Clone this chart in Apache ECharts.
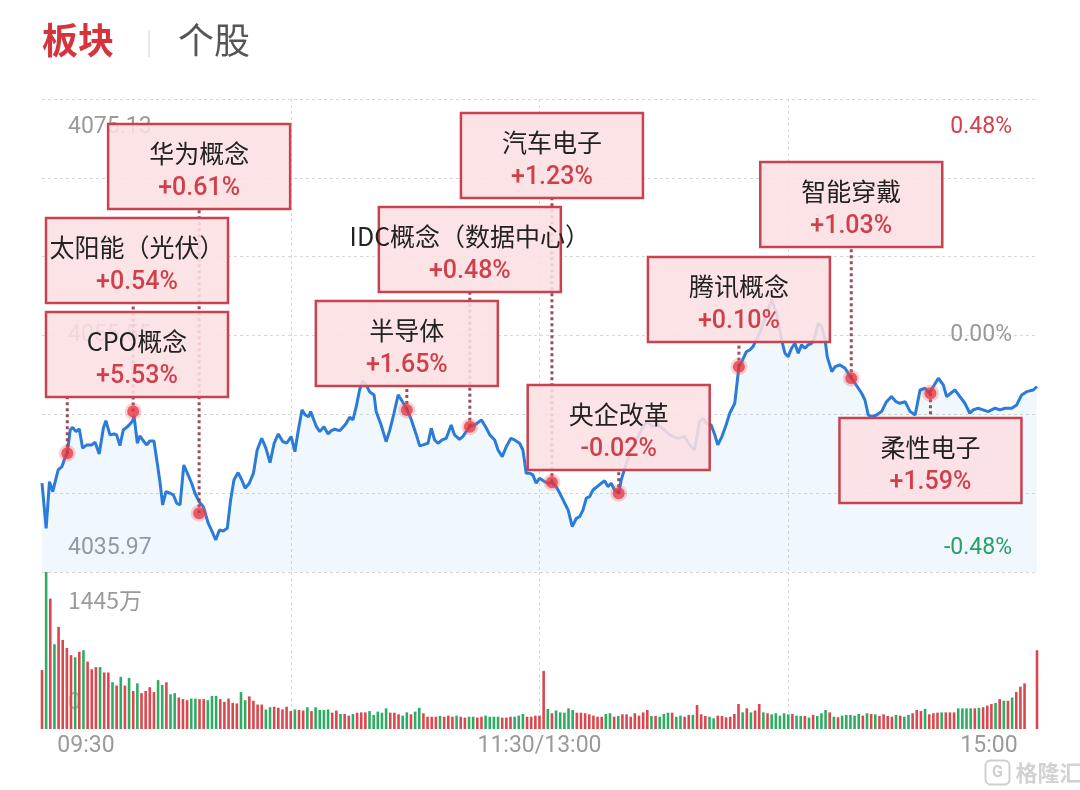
<!DOCTYPE html>
<html><head><meta charset="utf-8">
<script src="https://cdn.jsdelivr.net/npm/echarts@6.0.0/dist/echarts.min.js"></script>
<style>html,body{margin:0;padding:0;background:#fff}#c{width:1080px;height:790px}</style>
</head><body><div id="c"></div>
<script>
// ---------- data ----------
const prevClose = 4055.55;
const priceMax = 4075.13;
const priceMin = 4035.97;
const volMax = 1445;
const xTickValues = [0, 120, 240];
const xTickLabels = ['09:30', '11:30/13:00', '15:00'];

// minutes since 09:30 (trading clock) and index level
const priceTimes = [0,1.0,1.8,2.6,3.1,3.9,4.8,5.5,6.1,6.8,7.4,8.2,9.0,9.8,10.8,12.0,12.8,13.8,14.8,15.4,16.4,17.4,18.0,18.8,19.6,20.8,21.9,22.2,23.0,23.6,24.6,25.3,26.0,27.0,27.8,28.5,29.1,29.9,30.9,31.7,32.5,33.3,34.2,35.0,36.1,36.9,37.9,38.9,40.1,41.2,41.9,42.8,43.7,44.7,45.5,46.3,47.3,48.2,49.0,50.0,51.0,51.9,53.0,54.0,55.0,56.0,57.0,58.1,59.0,60.1,61.0,61.7,62.7,63.5,64.3,64.8,65.4,66.2,67.0,68.0,69.0,69.8,70.6,71.8,72.6,73.4,74.2,75.0,75.8,76.6,77.4,78.2,79.0,80.1,80.6,81.8,83.0,83.9,84.9,85.9,86.7,87.9,89.1,90.3,91.1,91.9,93.1,93.9,94.7,95.5,96.5,97.5,98.7,99.5,100.7,101.5,102.3,103.2,104.4,106.0,107.2,108.0,109.2,110.0,111.0,112.0,113.1,114.0,115.2,116.0,116.8,117.6,118.4,119.2,120.0,121.3,122.0,123.0,124.0,124.9,125.9,126.9,127.9,128.9,129.7,130.5,131.3,132.1,132.9,133.9,134.9,135.7,136.5,137.3,138.1,139.1,139.7,140.7,141.8,143.0,144.6,145.8,147.4,148.6,150.2,151.4,153.4,155.0,156.2,157.4,158.6,159.4,160.2,161.4,162.3,163.0,164.0,165.0,165.9,167.1,168.1,168.8,169.9,170.7,171.5,173.1,174.8,176.0,177.2,178.4,179.2,180.0,180.8,181.6,182.4,183.2,184.0,184.8,185.7,186.4,187.2,188.1,188.9,189.4,190.5,191.3,192.5,193.7,195.1,196.1,197.7,198.5,199.3,200.1,201.3,202.5,203.7,204.9,206.0,206.9,208.2,209.4,210.6,211.8,213.0,214.0,215.0,216.2,217.4,218.2,219.2,220.2,221.4,222.6,223.8,224.6,225.8,227.0,228.2,229.9,231.1,232.3,233.9,235.1,236.3,237.5,239.1,240];
const priceValues = [4043.32,4039.59,4043.45,4042.62,4043.32,4044.42,4044.69,4045.39,4045.80,4047.73,4047.95,4047.59,4047.81,4046.22,4046.49,4046.49,4046.71,4045.74,4047.87,4048.50,4047.32,4047.40,4047.32,4046.43,4047.73,4048.06,4048.50,4048.89,4046.63,4047.23,4046.76,4046.49,4046.82,4046.82,4044.97,4043.32,4041.52,4042.62,4042.49,4042.35,4041.66,4041.52,4044.83,4044.20,4043.32,4042.49,4041.79,4041.38,4040.01,4039.18,4038.62,4039.45,4039.37,4039.59,4041.94,4043.59,4044.20,4043.59,4042.90,4043.32,4044.15,4046.07,4047.04,4046.22,4045.02,4046.63,4047.40,4046.76,4046.63,4047.18,4045.93,4047.46,4049.39,4048.97,4048.83,4049.25,4048.70,4048.00,4047.59,4048.00,4047.40,4047.67,4047.79,4047.67,4047.95,4048.29,4048.78,4048.56,4049.66,4051.04,4051.81,4051.46,4050.90,4050.63,4049.25,4048.14,4046.76,4047.73,4049.11,4050.63,4050.21,4049.53,4048.56,4047.32,4046.41,4046.49,4046.63,4047.87,4046.90,4046.63,4046.90,4047.04,4048.14,4047.32,4046.96,4047.18,4047.59,4048.00,4048.14,4048.56,4047.87,4047.32,4046.90,4046.07,4045.52,4046.35,4047.04,4046.90,4046.63,4046.07,4044.15,4044.15,4044.01,4043.32,4043.73,4043.45,4043.32,4043.40,4043.04,4042.49,4041.79,4041.11,4039.72,4040.42,4040.55,4041.11,4042.08,4042.21,4042.76,4043.04,4043.32,4043.53,4043.04,4043.32,4042.76,4042.49,4043.59,4044.69,4045.80,4046.63,4047.73,4048.42,4048.00,4048.14,4047.73,4047.32,4047.04,4047.18,4046.49,4046.07,4048.42,4048.70,4048.29,4048.14,4047.32,4046.49,4047.18,4048.14,4049.11,4049.94,4052.97,4053.39,4054.21,4054.35,4054.63,4055.74,4057.39,4058.49,4057.39,4055.18,4054.08,4053.80,4054.49,4054.91,4054.08,4054.77,4054.49,4054.77,4054.91,4055.46,4056.56,4056.28,4055.18,4053.80,4052.56,4052.97,4053.11,4052.84,4052.09,4051.60,4050.77,4050.21,4048.97,4048.83,4048.97,4049.25,4050.07,4050.49,4050.07,4049.94,4050.07,4049.25,4048.97,4051.04,4051.18,4050.77,4051.32,4052.01,4051.46,4050.49,4050.77,4051.04,4050.49,4049.94,4049.11,4049.39,4049.53,4049.39,4049.25,4049.53,4049.39,4049.53,4049.53,4049.80,4050.63,4050.90,4051.04,4051.33];

// per-minute volume (万), index 0 = 09:30 ... 240 = 15:00
const volumes = [543,1445,1200,780,940,820,745,680,660,710,
725,620,550,570,570,520,520,430,400,480,
400,470,350,420,330,350,385,340,450,405,
430,320,330,290,275,265,280,280,275,275,
265,305,305,275,250,280,240,235,340,265,
300,260,225,225,180,200,205,195,180,205,
165,180,175,170,200,165,200,175,175,180,
150,170,138,138,123,138,150,153,153,165,
130,160,150,190,150,150,135,123,153,135,
160,195,145,113,113,113,120,113,123,113,
123,113,105,113,113,105,113,123,113,113,
113,105,105,113,113,123,138,113,113,123,
123,535,
185,145,170,153,150,190,175,150,150,145,
135,123,113,113,138,145,113,120,135,135,
113,145,123,153,175,120,120,113,138,150,
150,113,123,113,130,130,220,135,120,113,
98,123,120,108,113,138,230,153,190,153,
170,230,153,145,135,145,123,145,135,138,
123,120,120,105,130,120,145,175,153,113,
108,123,130,130,123,138,123,145,138,135,
120,135,120,113,130,123,113,130,145,175,
165,185,135,145,150,153,153,153,153,190,
190,190,190,190,195,200,215,230,240,275,
260,260,290,340,390,420,
0,0,725];
// 1 = up (red), 0 = down (green)
const volUp = [1,0,1,0,1,1,1,1,0,1,
0,1,1,1,0,1,1,0,1,0,
1,0,1,0,1,1,1,1,0,0,
1,0,0,1,1,1,0,0,1,1,
0,0,0,1,1,1,1,1,0,0,
1,1,1,1,0,0,1,1,1,1,
1,0,1,1,0,1,0,0,0,0,
1,1,0,1,1,0,1,1,1,0,
0,0,0,0,1,1,1,0,0,1,
0,0,1,1,1,1,0,1,1,1,
0,1,1,0,0,1,1,0,0,0,
0,1,1,1,0,0,0,1,1,1,
1,1,
0,1,0,0,0,0,0,1,1,1,
1,1,1,1,0,0,1,0,1,1,
1,1,1,1,1,0,1,0,0,0,
1,0,0,1,1,0,1,1,1,0,
0,1,1,1,1,1,1,0,1,0,
1,1,0,1,0,0,0,0,0,1,
0,0,1,0,1,0,0,0,1,0,
1,0,0,0,0,0,1,0,1,0,
1,1,1,1,0,1,0,0,1,1,
1,0,1,1,1,0,1,1,1,0,
0,0,0,1,0,1,1,1,0,1,
0,1,0,1,1,1,
1,1,1];

// sector annotations
const annoNames = ['CPO概念','太阳能（光伏）','华为概念','半导体','IDC概念（数据中心）','汽车电子','央企改革','腾讯概念','智能穿戴','柔性电子'];
const annoPct = [5.53, 0.54, 0.61, 1.65, 0.48, 1.23, -0.02, 0.10, 1.03, 1.59];
const annoTimes = [6.1, 22.0, 37.9, 88.0, 103.2, 123.0, 139.1, 168.1, 195.2, 214.3];
const annoPrices = [4045.80, 4049.25, 4040.83, 4049.39, 4048.00, 4043.40, 4042.49, 4052.97, 4052.01, 4050.77];

// ---------- layout / style ----------
const annoBoxTop = [312, 218, 124, 301, 207, 113, 385, 257, 162, 418]; // px
const BOX_W = 182, BOX_H = 85;
const FONT = 'Roboto, "Noto Sans CJK SC", sans-serif';
const CJK = '"Noto Sans CJK SC", Roboto, sans-serif';
const RED = '#d43f49', GREEN = '#27a25a', GRAY = '#9a9a9a';
const BAR_RED = '#d9474f', BAR_GREEN = '#2eac63';

const chart = echarts.init(document.getElementById('c'), null, {renderer: 'canvas'});

const near = (a, b) => Math.abs(a - b) < 1e-6;
const splitStyle = {color: '#d8d8d8', type: [3, 3], width: 1};

const option = {
  animation: false,
  backgroundColor: '#fff',
  grid: [
    {left: 42, right: 43, top: 99, height: 473},
    {left: 42, right: 43, top: 572, height: 157}
  ],
  xAxis: [
    {type: 'value', gridIndex: 0, min: 0, max: 240, interval: 60,
     axisLine: {show: false}, axisTick: {show: false}, axisLabel: {show: false},
     splitLine: {show: true, showMinLine: false, showMaxLine: false, lineStyle: splitStyle}},
    {type: 'value', gridIndex: 1, min: 0, max: 240, interval: 60,
     axisLine: {show: false}, axisTick: {show: false},
     splitLine: {show: true, showMinLine: false, showMaxLine: false, lineStyle: splitStyle},
     axisLabel: {show: true, margin: 6, showMinLabel: true, showMaxLabel: true,
       color: GRAY, fontSize: 23, fontFamily: FONT,
       formatter: function (v) {
         const k = xTickValues.findIndex(t => near(t, v));
         if (k < 0) return '';
         const tag = k === 0 ? 'l' : (k === xTickValues.length - 1 ? 'r' : 'm');
         return '{' + tag + '|' + xTickLabels[k] + '}';
       },
       rich: {
         l: {padding: [0, 0, 0, 88], color: GRAY, fontSize: 23, fontFamily: FONT},
         m: {color: GRAY, fontSize: 23, fontFamily: FONT},
         r: {padding: [0, 96, 0, 0], color: GRAY, fontSize: 23, fontFamily: FONT}
       }}}
  ],
  yAxis: [
    {type: 'value', gridIndex: 0, position: 'left', min: priceMin, max: priceMax, interval: (priceMax - priceMin) / 6,
     axisLine: {show: false}, axisTick: {show: false},
     splitLine: {show: true, lineStyle: splitStyle},
     axisLabel: {inside: true, margin: 26, showMinLabel: true, showMaxLabel: true,
       color: GRAY, fontSize: 23, fontFamily: FONT,
       formatter: function (v) {
         if (near(v, priceMax) || Math.abs(v - priceMax) < 0.005) return '{t|' + priceMax.toFixed(2) + '}';
         if (Math.abs(v - priceMin) < 0.005) return '{b|' + priceMin.toFixed(2) + '}';
         if (Math.abs(v - prevClose) < 0.01) return '{m|' + prevClose.toFixed(2) + '}';
         return '';
       },
       rich: {
         t: {padding: [56, 0, 0, 0], color: GRAY, fontSize: 23, fontFamily: FONT},
         m: {color: GRAY, fontSize: 23, fontFamily: FONT},
         b: {padding: [0, 0, 48, 0], color: GRAY, fontSize: 23, fontFamily: FONT}
       }}},
    {type: 'value', gridIndex: 0, position: 'right', min: priceMin, max: priceMax, interval: (priceMax - priceMin) / 6,
     axisLine: {show: false}, axisTick: {show: false}, splitLine: {show: false},
     axisLabel: {inside: true, margin: 25, showMinLabel: true, showMaxLabel: true,
       color: GRAY, fontSize: 23, fontFamily: FONT,
       formatter: function (v) {
         let pct = (v - prevClose) / prevClose * 100;
         const isMax = Math.abs(v - priceMax) < 0.005, isMin = Math.abs(v - priceMin) < 0.005, isMid = Math.abs(v - prevClose) < 0.01;
         if (!isMax && !isMin && !isMid) return '';
         if (isMid) pct = 0;
         const s = pct.toFixed(2) + '%';
         if (isMax) return '{t|' + s + '}';
         if (isMin) return '{b|' + s + '}';
         return '{m|' + s + '}';
       },
       rich: {
         t: {padding: [56, 0, 0, 0], color: RED, fontSize: 23, fontFamily: FONT},
         m: {color: GRAY, fontSize: 23, fontFamily: FONT},
         b: {padding: [0, 0, 48, 0], color: GREEN, fontSize: 23, fontFamily: FONT}
       }}},
    {type: 'value', gridIndex: 1, position: 'left', min: 0, max: volMax, interval: volMax / 2,
     axisLine: {show: false}, axisTick: {show: false}, splitLine: {show: false},
     axisLabel: {inside: true, margin: 26, showMinLabel: true, showMaxLabel: true,
       color: GRAY, fontSize: 23, fontFamily: FONT,
       formatter: function (v) {
         if (Math.abs(v - volMax) < 0.01) return '{t|' + volMax + '万}';
         if (Math.abs(v) < 0.01) return '{b|0}';
         return '';
       },
       rich: {
         t: {padding: [56, 0, 0, 0], color: GRAY, fontSize: 23, fontFamily: CJK},
         b: {padding: [0, 0, 52, 0], color: '#b5b5b5', fontSize: 23, fontFamily: FONT}
       }}}
  ],
  series: [
    {type: 'line', name: 'index', xAxisIndex: 0, yAxisIndex: 0, z: 2,
     data: priceTimes.map((t, i) => [t, priceValues[i]]),
     showSymbol: false, smooth: false, silent: true,
     lineStyle: {color: '#2b7bd8', width: 3},
     areaStyle: {origin: 'start', color: 'rgba(70,155,230,0.11)'}},
    {type: 'bar', name: 'volume', xAxisIndex: 1, yAxisIndex: 2, barWidth: 2.6, silent: true,
     data: volumes.map((v, i) => ({value: [i, v], itemStyle: {color: volUp[i] ? BAR_RED : BAR_GREEN}}))},
    // dotted leader lines
    {type: 'custom', name: 'leaders', coordinateSystem: 'cartesian2d', xAxisIndex: 0, yAxisIndex: 0, z: 3, silent: true,
     data: annoTimes.map((t, i) => [t, annoPrices[i]]),
     renderItem: function (params, api) {
       const i = params.dataIndex;
       const pt = api.coord([api.value(0), api.value(1)]);
       const top = annoBoxTop[i];
       const y2 = top > pt[1] ? top : top + BOX_H;
       return {type: 'line', shape: {x1: pt[0], y1: pt[1], x2: pt[0], y2: y2},
               style: {stroke: '#8e3b4a', lineWidth: 3, lineDash: [3, 3], opacity: 0.9}};
     }},
    // boxes + labels
    {type: 'custom', name: 'boxes', coordinateSystem: 'cartesian2d', xAxisIndex: 0, yAxisIndex: 0, z: 4, silent: true,
     data: annoTimes.map((t, i) => [t, annoPrices[i]]),
     renderItem: function (params, api) {
       const i = params.dataIndex;
       const pt = api.coord([api.value(0), api.value(1)]);
       const cs = params.coordSys;
       const cx = Math.max(pt[0], cs.x + 4 + BOX_W / 2);
       const top = annoBoxTop[i];
       const p = annoPct[i];
       const pctText = (p >= 0 ? '+' : '') + p.toFixed(2) + '%';
       return {type: 'group', children: [
         {type: 'rect', shape: {x: cx - BOX_W / 2, y: top, width: BOX_W, height: BOX_H},
          style: {fill: 'rgba(252,223,226,0.88)', stroke: '#c8424f', lineWidth: 2.5}},
         {type: 'text', style: {text: annoNames[i], x: cx, y: top + 29, align: 'center', verticalAlign: 'middle',
           textAlign: 'center', textVerticalAlign: 'middle', font: '25px ' + CJK, fill: '#222'}},
         {type: 'text', style: {text: pctText, x: cx, y: top + 65, align: 'center', verticalAlign: 'middle',
           textAlign: 'center', textVerticalAlign: 'middle', font: '500 25px ' + FONT, fill: '#d0404b'}}
       ]};
     }},
    {type: 'scatter', name: 'dots', xAxisIndex: 0, yAxisIndex: 0, z: 5, silent: true,
     data: annoTimes.map((t, i) => [t, annoPrices[i]]),
     symbolSize: 12,
     itemStyle: {color: '#e6323c', borderColor: 'rgba(240,90,100,0.35)', borderWidth: 5}}
  ],
  graphic: [
    {type: 'text', left: 42, top: 22, style: {text: '板块', font: 'bold 36px ' + CJK, fill: '#d6343c'}},
    {type: 'rect', left: 148, top: 30, shape: {width: 2, height: 27}, style: {fill: '#e8e8e8'}},
    {type: 'text', left: 178, top: 22, style: {text: '个股', font: '36px ' + CJK, fill: '#555'}},
    {type: 'group', left: 983, top: 758, children: [
      {type: 'rect', shape: {x: 0, y: 0, width: 24, height: 24, r: 5}, style: {fill: 'none', stroke: '#cfcfcf', lineWidth: 2}},
      {type: 'text', style: {text: 'G', x: 12, y: 12, align: 'center', verticalAlign: 'middle', textAlign: 'center', textVerticalAlign: 'middle', font: 'bold 16px ' + FONT, fill: '#cfcfcf'}},
      {type: 'text', style: {text: '格隆汇', x: 30, y: 12, verticalAlign: 'middle', textVerticalAlign: 'middle', font: 'bold 22px ' + CJK, fill: '#d2d2d2'}}
    ]}
  ]
};
chart.setOption(option);
</script></body></html>
